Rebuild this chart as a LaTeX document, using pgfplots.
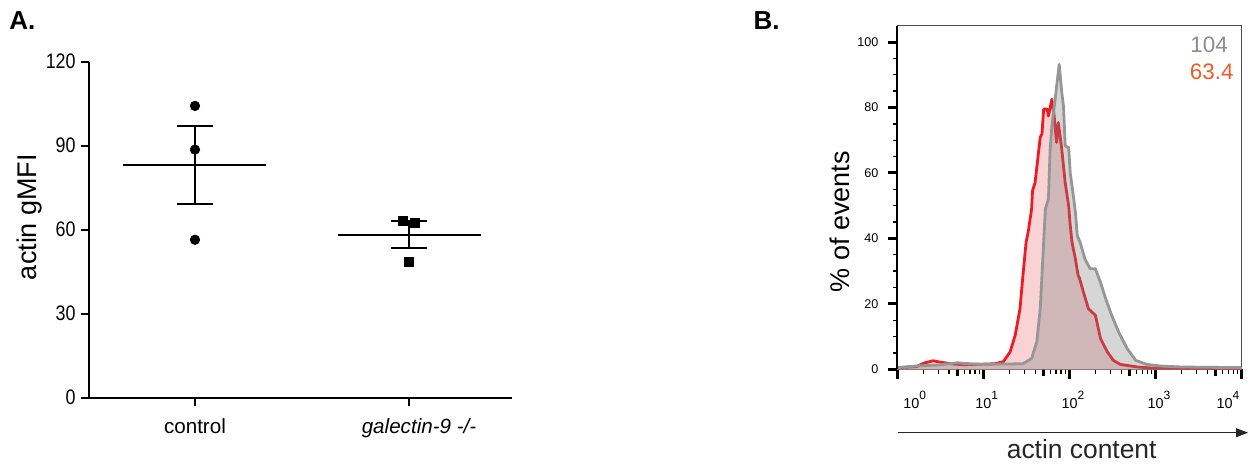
\documentclass[border=0pt]{standalone}
\usepackage{fontspec}
\setmainfont{Liberation Sans}
\usepackage{graphicx}
\usepackage{pgfplots}
\pgfplotsset{compat=1.18}
\usepackage{pgfplotstable}
\usetikzlibrary{arrows.meta}

\definecolor{redline}{RGB}{237,28,36}
\definecolor{pinkfill}{RGB}{249,211,211}
\definecolor{greyline}{RGB}{150,150,150}
\definecolor{greyfill}{RGB}{130,130,130}
\definecolor{greytxt}{RGB}{140,140,140}
\definecolor{orangetxt}{RGB}{240,90,40}

% histogram series: x = fluorescence, y = % of events
\pgfplotstableread{
x y
1 0.5
1.66 0.8
2.1 2.0
2.6 2.6
3.3 2.1
4.5 1.6
6 1.4
8 1.5
11 1.6
13.5 1.7
17 2.3
20.4 5.3
23.4 10.4
26.6 18.5
28.8 28.7
31.3 38.8
33.1 41.9
36.3 49
37.2 54.6
39.8 57
45.7 70.9
47.9 72
50.1 79.5
55 79.5
56.9 77.4
62.4 82.5
66 78
70.8 69.3
74.1 75.4
81.3 67.3
89.1 57
97.7 50
102 43.9
107 38.8
117 33.7
126 28.7
130 28
145 23.6
166 18.5
200 16.5
229 9.4
275 5.3
324 2.7
389 1.5
617 0.7
891 0.4
10000 0.3
}\redtab

\pgfplotstableread{
x y
1 0.5
1.66 1.0
3 1.3
5 2.0
6 1.8
10 1.5
17 1.6
28.8 1.7
36.3 3.3
41.7 8.4
45.7 18.5
47.9 28.7
50.1 38.8
52.5 49
56.9 52
59.6 67.3
62.4 74.4
68.1 82.5
75.9 93.2
81.3 84.6
85.1 80.5
89.1 68.3
97.7 67.7
102 60
112 52
117 48
123 40.9
133 38.8
151 33.7
174 30.7
200 30.7
229 26.6
263 21.6
309 16.5
372 11.4
468 6.3
589 2.7
794 1.5
1148 1.0
2000 0.7
10000 0.5
}\greytab

\newcommand{\tl}[1]{\llap{1}\rlap{0\raisebox{4.2pt}{\fontsize{6}{7}\selectfont #1}}}

\begin{document}
\begin{tikzpicture}
\path[use as bounding box] (0pt,0pt) rectangle (625pt,235.5pt);

% ---------------- Panel A ----------------
\begin{axis}[
  at={(44.5pt,36.65pt)}, anchor=south west,
  scale only axis, width=211.5pt, height=168pt,
  xmin=-0.495, xmax=1.481, ymin=0, ymax=120,
  axis lines=left, axis line style={-, line width=1pt, black},
  xtick={0,1}, xticklabels={control,\hspace*{10pt}\textit{galectin-9 -/-}},
  ytick={0,30,60,90,120},
  yticklabels={\scalebox{0.85}[1]{0},\scalebox{0.85}[1]{30},\scalebox{0.85}[1]{60},\scalebox{0.85}[1]{90},\scalebox{0.85}[1]{120}},
  tick align=outside, major tick length=4pt,
  tick style={line width=1pt, black},
  yticklabel style={font=\fontsize{10.5}{12}\selectfont, anchor=east, inner sep=0pt, xshift=-2.5pt},
  xticklabel style={font=\fontsize{10.3}{12}\selectfont, anchor=base, inner sep=0pt, yshift=-13.8pt},
  clip=false,
]
% means
\addplot[black, line width=1pt, mark=none] coordinates {(-0.334,83.07) (0.334,83.07)};
\addplot[black, line width=1pt, mark=none] coordinates {(0.666,58.17) (1.334,58.17)};
% SEM bars
\addplot[black, line width=1pt, mark=none] coordinates {(0,69.0) (0,97.14)};
\addplot[black, line width=1pt, mark=none] coordinates {(-0.084,97.14) (0.084,97.14)};
\addplot[black, line width=1pt, mark=none] coordinates {(-0.084,69.0) (0.084,69.0)};
\addplot[black, line width=1pt, mark=none] coordinates {(1,53.38) (1,62.96)};
\addplot[black, line width=1pt, mark=none] coordinates {(0.916,62.96) (1.084,62.96)};
\addplot[black, line width=1pt, mark=none] coordinates {(0.916,53.38) (1.084,53.38)};
% points
\addplot[only marks, mark=*, mark size=2.35pt, black] coordinates {(0,104.2) (0,88.6) (0,56.4)};
\addplot[only marks, mark=square*, mark size=2.25pt, black] coordinates {(0.971,63.3) (1.029,62.6) (1,48.6)};
\end{axis}

% ---------------- Panel B ----------------
\begin{axis}[
  at={(448.65pt,50.85pt)}, anchor=south west,
  scale only axis, width=172.2pt, height=171.8pt,
  xmode=log, xmin=1, xmax=10000, ymin=0, ymax=105,
  clip mode=individual,
  axis line style={line width=0.6pt, black!70},
  xtick={1,10,100,1000,10000}, xticklabels={},
  ytick={0,20,40,60,80,100},
  minor ytick={5,10,15,25,30,35,45,50,55,65,70,75,85,90,95},
  xtick pos=bottom, ytick pos=left,
  tick align=outside,
  major tick length=4.75pt, minor tick length=2.2pt,
  major tick style={line width=1.5pt, black},
  minor tick style={line width=0.7pt, black},
  /pgf/number format/assume math mode=true,
  yticklabel style={font=\fontsize{6.3}{7}\selectfont, anchor=east, inner sep=0pt, xshift=-4.5pt},
  extra x ticks={5,50,500,5000}, extra x tick labels={},
  extra x tick style={major tick length=3.3pt},
]
\addplot[draw=none, fill=pinkfill] table[x=x,y=y] {\redtab} \closedcycle;
\addplot[redline, line width=1.4pt, line join=round, mark=none] table[x=x,y=y] {\redtab};
\addplot[draw=none, fill=greyfill, fill opacity=0.33] table[x=x,y=y] {\greytab} \closedcycle;
\addplot[greyline, line width=1.4pt, line join=round, mark=none] table[x=x,y=y] {\greytab};
\draw[black, line width=0.9pt] (rel axis cs:0,0) -- (rel axis cs:0,1);

\node[anchor=base, inner sep=0pt, font=\fontsize{7.2}{8}\selectfont] at ([xshift=7pt,yshift=-19.5pt]axis cs:1,0) {\tl{0}};
\node[anchor=base, inner sep=0pt, font=\fontsize{7.2}{8}\selectfont] at ([yshift=-19.5pt]axis cs:10,0) {\tl{1}};
\node[anchor=base, inner sep=0pt, font=\fontsize{7.2}{8}\selectfont] at ([yshift=-19.5pt]axis cs:100,0) {\tl{2}};
\node[anchor=base, inner sep=0pt, font=\fontsize{7.2}{8}\selectfont] at ([yshift=-19.5pt]axis cs:1000,0) {\tl{3}};
\node[anchor=base, inner sep=0pt, font=\fontsize{7.2}{8}\selectfont] at ([xshift=-8.5pt,yshift=-19.5pt]axis cs:10000,0) {\tl{4}};
\end{axis}

% ---------------- texts ----------------
\node[anchor=base west, inner sep=0pt, font=\fontsize{13}{15}\selectfont\bfseries] at (4.5pt,220.5pt) {A.};
\node[anchor=base west, inner sep=0pt, font=\fontsize{13}{15}\selectfont\bfseries] at (376.65pt,220.85pt) {B.};
\node[rotate=90, inner sep=0pt, font=\fontsize{13.5}{16}\selectfont] at (15pt,127pt) {actin gMFI};
\node[rotate=90, inner sep=0pt, font=\fontsize{13.5}{16}\selectfont] at (420pt,124.65pt) {\% of events};
\node[anchor=base, inner sep=0pt, font=\fontsize{13.2}{16}\selectfont, text=black!85] at (540.85pt,6.35pt) {actin content};
\draw[line width=0.5pt, black!85, -{Triangle[length=6pt,width=4.5pt]}] (449pt,19.15pt) -- (624pt,19.15pt);
\node[anchor=base west, inner sep=0pt, font=\fontsize{11.2}{13}\selectfont, text=greytxt] at (595pt,209.35pt) {104};
\node[anchor=base west, inner sep=0pt, font=\fontsize{11.2}{13}\selectfont, text=orangetxt] at (594.75pt,195.5pt) {63.4};
\end{tikzpicture}
\end{document}
